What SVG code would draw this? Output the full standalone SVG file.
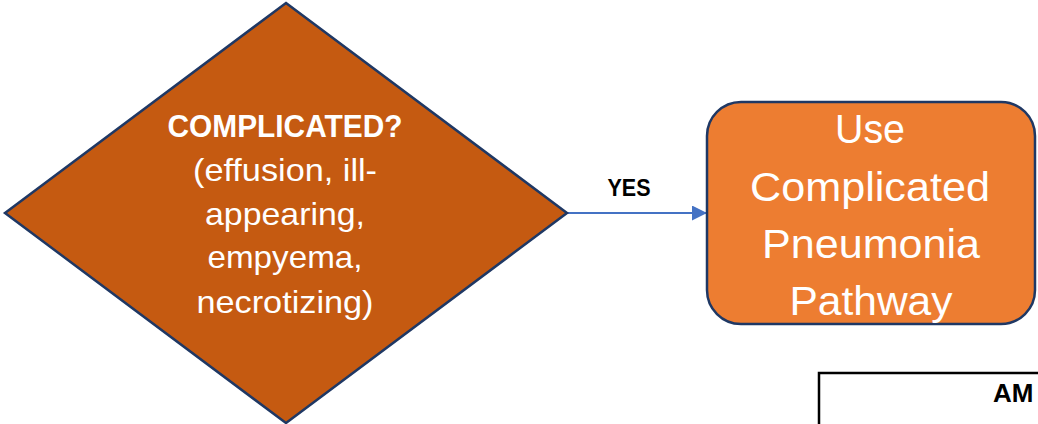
<svg xmlns="http://www.w3.org/2000/svg" width="1038" height="424" viewBox="0 0 1038 424">
  <style>
    .w { font-family: "Liberation Sans", Arial, sans-serif; fill: #FFFFFF; text-anchor: middle; }
    .b { font-weight: bold; }
    .k { font-family: "Liberation Sans", Arial, sans-serif; fill: #000000; font-weight: bold; }
  </style>
  <defs>
    <marker id="arrow" viewBox="0 0 10 10" refX="10" refY="5" markerWidth="7.5" markerHeight="7.5" markerUnits="strokeWidth" orient="auto">
      <path d="M0,0 L10,5 L0,10 Z" fill="#4472C4"/>
    </marker>
  </defs>
  <rect width="1038" height="424" fill="#FFFFFF"/>

  <g id="connectors">
    <line x1="567" y1="213" x2="707" y2="213" stroke="#4472C4" stroke-width="2" marker-end="url(#arrow)"/>
    <text class="k" x="629" y="196" font-size="23" text-anchor="middle" textLength="43" lengthAdjust="spacingAndGlyphs">YES</text>
  </g>

  <g id="decision">
    <polygon points="286,3 567,213 286,423 5,213" fill="#C55A11" stroke="#1F3864" stroke-width="2.5"/>
    <text class="w b" x="285" y="137" font-size="31" textLength="235" lengthAdjust="spacingAndGlyphs">COMPLICATED?</text>
    <text class="w" x="285" y="181" font-size="32" textLength="184" lengthAdjust="spacingAndGlyphs">(effusion, ill-</text>
    <text class="w" x="285" y="225" font-size="32" textLength="160" lengthAdjust="spacingAndGlyphs">appearing,</text>
    <text class="w" x="285" y="268" font-size="32" textLength="155" lengthAdjust="spacingAndGlyphs">empyema,</text>
    <text class="w" x="285" y="313" font-size="32" textLength="177" lengthAdjust="spacingAndGlyphs">necrotizing)</text>
  </g>

  <g id="complicated-pathway">
    <rect x="707" y="102" width="328" height="222" rx="34" ry="34" fill="#ED7D31" stroke="#1F3864" stroke-width="2.5"/>
    <text class="w" x="870" y="143" font-size="40" textLength="70" lengthAdjust="spacingAndGlyphs">Use</text>
    <text class="w" x="870" y="201" font-size="40" textLength="240" lengthAdjust="spacingAndGlyphs">Complicated</text>
    <text class="w" x="871" y="258" font-size="40" textLength="218" lengthAdjust="spacingAndGlyphs">Pneumonia</text>
    <text class="w" x="871" y="315" font-size="40" textLength="163" lengthAdjust="spacingAndGlyphs">Pathway</text>
  </g>

  <g id="table">
    <rect x="819" y="373" width="240" height="80" fill="#FFFFFF" stroke="#000000" stroke-width="2.5"/>
    <text class="k" x="993" y="402" font-size="26">AM</text>
  </g>
</svg>
